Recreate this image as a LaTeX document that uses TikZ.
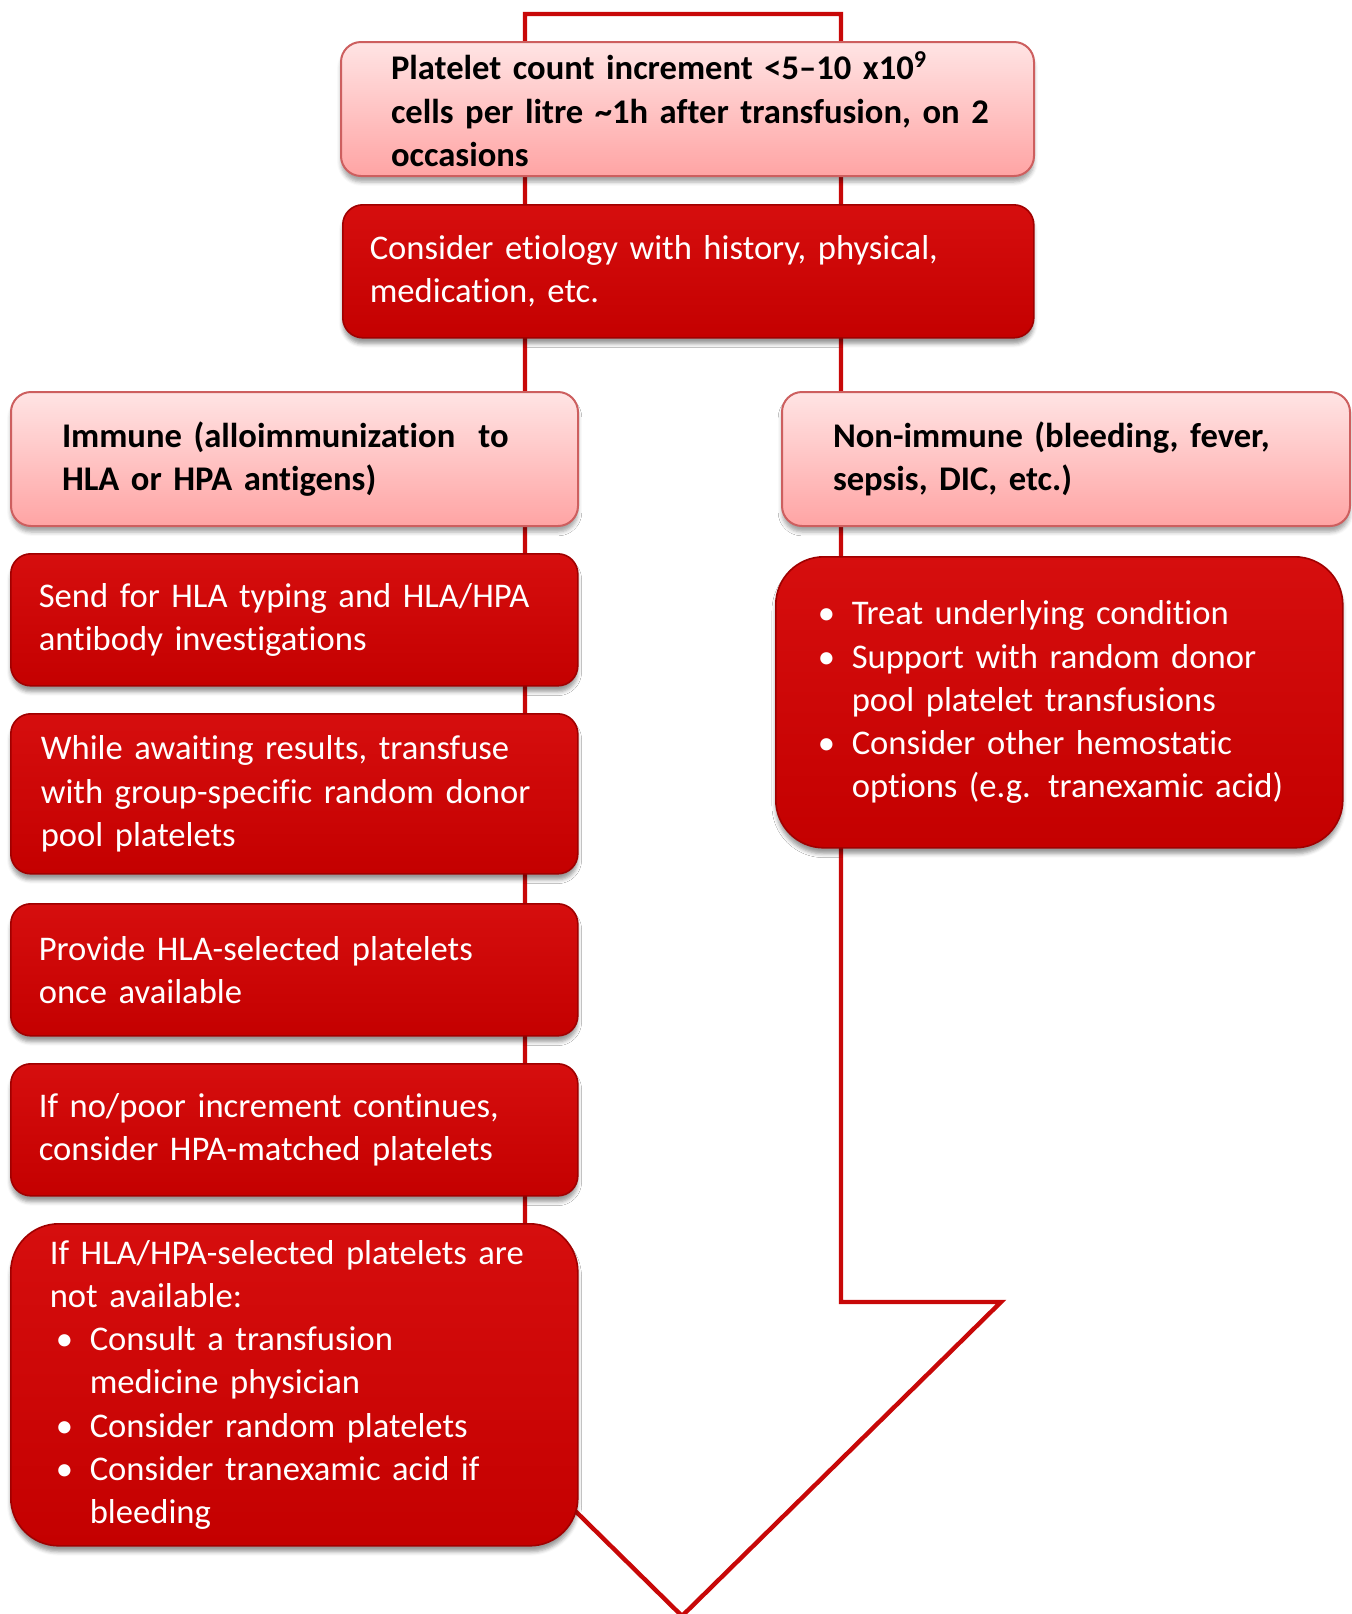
\documentclass[tikz,border=0pt]{standalone}
\usepackage{fontspec}
\setmainfont{Carlito}[Ligatures={TeX,NoCommon}]
\usetikzlibrary{positioning,shadows.blur}
\definecolor{shaftred}{RGB}{200,8,8}
\definecolor{redtop}{RGB}{214,14,14}
\definecolor{redbot}{RGB}{196,0,0}
\definecolor{rededge}{RGB}{160,0,0}
\definecolor{pinktop}{RGB}{255,228,228}
\definecolor{pinkbot}{RGB}{255,164,164}
\definecolor{pinkedge}{RGB}{205,95,95}
\newcommand{\boxfont}{\fontsize{17.3pt}{21.6pt}\selectfont}
\newcommand{\bul}{\makebox[17pt][l]{\textbullet}}
\newcommand{\ind}{\hspace*{17pt}}
\tikzset{
  pinkbox/.style = {rectangle, rounded corners=10pt, draw=pinkedge, line width=1pt,
                    top color=pinktop, bottom color=pinkbot, text=black,
                    font=\boxfont\bfseries, align=left, anchor=north west,
                    inner ysep=0pt,
                    blur shadow={shadow xshift=0pt, shadow yshift=-3pt, shadow opacity=35}},
  redbox/.style  = {rectangle, rounded corners=10pt, draw=rededge, line width=0.8pt,
                    top color=redtop, bottom color=redbot, text=white,
                    font=\boxfont, align=left, anchor=north west,
                    inner ysep=0pt,
                    blur shadow={shadow xshift=0pt, shadow yshift=-3pt, shadow opacity=40}},
  bigbox/.style  = {redbox, rounded corners=24pt},
  shaft/.style   = {draw=shaftred, line width=2.2pt, fill=white, line join=miter},
}

\begin{document}
\begin{tikzpicture}[x=0.5pt, y=-0.5pt]
  \useasboundingbox (0,0) rectangle (1352,1614);

  % big arrow behind the boxes
  \draw[shaft] (525,14) -- (841,14) -- (841,1302) -- (1001,1302)
               -- (682,1616) -- (363,1302) -- (525,1302) -- cycle;

  % top of the chart
  \node[pinkbox, minimum width=346.5pt, minimum height=67pt,
        inner xsep=25pt, text width=296.5pt] (count) at (340,41)
    {Platelet count increment <5--10 x10\textsuperscript{9}\\
     \mbox{cells per litre \textasciitilde1h after transfusion,\ on 2}\\
     occasions};
  \node[redbox, minimum width=345.5pt, minimum height=66.5pt,
        inner xsep=13.5pt, text width=318.5pt] (etiol) at (342,204)
    {Consider etiology with history, physical,\\ medication, etc.};

  % immune branch
  \node[pinkbox, minimum width=283.5pt, minimum height=67pt,
        inner xsep=25.5pt, text width=232.5pt] (immune) at (10,391)
    {Immune (alloimmunization\ \ to\\ HLA or HPA antigens)};
  \node[redbox, minimum width=283.5pt, minimum height=66pt,
        inner xsep=14pt, text width=255.5pt] (send) at (10,553)
    {Send for HLA typing and HLA/HPA\\ antibody investigations};
  \node[redbox, minimum width=283.5pt, minimum height=80pt,
        inner xsep=15pt, text width=253.5pt] (await) at (10,713)
    {While awaiting results, transfuse\\ with group-specific random donor\\ pool platelets};
  \node[redbox, minimum width=283.5pt, minimum height=66pt,
        inner xsep=14pt, text width=255.5pt] (hlasel) at (10,903)
    {Provide HLA-selected platelets\\ once available};
  \node[redbox, minimum width=283.5pt, minimum height=66pt,
        inner xsep=14pt, text width=255.5pt] (hpamatch) at (10,1063)
    {If no/poor increment continues,\\ consider HPA-matched platelets};
  \node[bigbox, minimum width=283.5pt, minimum height=161pt,
        inner xsep=19.5pt, text width=244.5pt] (noavail) at (10,1223)
    {If HLA/HPA-selected platelets are\\ not available:\\
     \hspace*{3pt}\bul Consult a transfusion\\
     \hspace*{3pt}\ind medicine physician\\
     \hspace*{3pt}\bul Consider random platelets\\
     \hspace*{3pt}\bul Consider tranexamic acid if\\
     \hspace*{3pt}\ind bleeding};

  % non-immune branch
  \node[pinkbox, minimum width=284pt, minimum height=67pt,
        inner xsep=25.5pt, text width=233pt] (nonimm) at (781,391)
    {Non-immune (bleeding, fever,\\ sepsis, DIC, etc.)};
  \node[bigbox, minimum width=283.5pt, minimum height=145.5pt,
        inner xsep=21pt, text width=241.5pt] (support) at (775,556)
    {\bul Treat underlying condition\\
     \bul Support with random donor\\
     \ind pool platelet transfusions\\
     \bul Consider other hemostatic\\
     \ind options (e.g. tranexamic acid)};
\end{tikzpicture}
\end{document}
